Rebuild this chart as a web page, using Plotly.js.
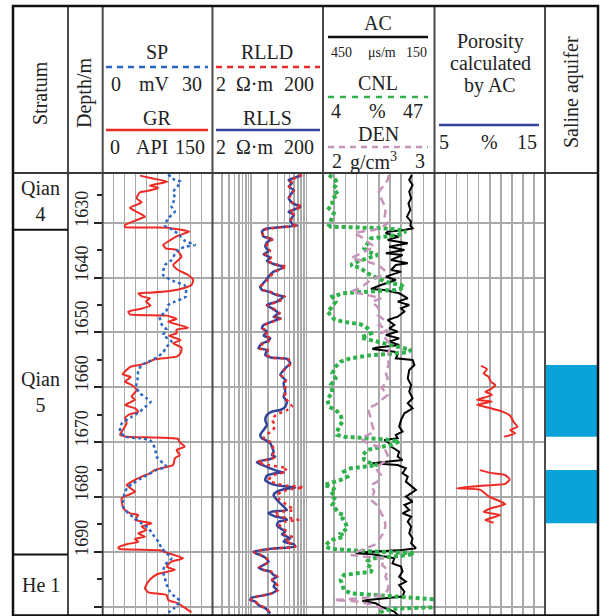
<!DOCTYPE html>
<html><head><meta charset="utf-8">
<script src="https://cdn.plot.ly/plotly-3.0.1.min.js"></script>
<style>html,body{margin:0;padding:0;background:#fff}#chart{width:602px;height:616px}</style>
</head><body><div id="chart"></div>
<script>
// ---------------- DATA ----------------
const depthRange = [1701.51, 1620.94];          // bottom, top (m)
const depthTicks = [1630, 1640, 1650, 1660, 1670, 1680, 1690];
const strataNames = ["Qian<br>4", "Qian<br>5", "He 1"];
const strataTop = [1620.94, 1631.3, 1690.5];
const strataBase = [1631.3, 1690.5, 1701.51];
const salineTop = [1655.94, 1675.07];
const salineBase = [1669.0, 1684.8];

// GR (API) : [depth, value]
const GR = [[1621.42,50.9],[1621.91,66.8],[1622.52,88.2],[1623.25,64.5],[1623.61,75.9],[1624.10,65.4],[1624.46,50.9],[1625.56,46.3],[1626.28,53.2],[1627.26,37.3],[1627.87,44.1],[1628.90,57.7],[1629.51,46.3],[1630.42,30.4],[1630.78,30.4],[1630.90,88.2],[1631.63,118.1],[1632.36,103.1],[1634.06,82.7],[1634.67,86.3],[1634.97,100.9],[1636.19,107.7],[1637.71,96.3],[1638.62,103.1],[1639.53,116.8],[1640.44,123.6],[1641.35,121.3],[1641.96,110.0],[1642.45,91.8],[1642.75,64.5],[1642.87,48.6],[1643.48,54.5],[1643.78,64.5],[1644.39,59.1],[1645.12,65.4],[1645.73,50.9],[1646.21,35.0],[1646.70,37.3],[1646.94,87.2],[1647.55,100.9],[1648.04,89.5],[1649.13,116.8],[1649.50,100.9],[1650.16,100.9],[1650.59,90.9],[1651.38,106.3],[1651.99,96.3],[1652.78,107.7],[1653.81,106.3],[1654.42,100.9],[1654.90,71.3],[1655.45,62.2],[1655.94,50.0],[1656.24,38.2],[1657.64,27.2],[1658.12,38.2],[1658.97,30.4],[1659.58,39.5],[1660.49,46.3],[1661.71,39.5],[1662.31,44.1],[1663.23,30.4],[1663.83,44.1],[1664.44,48.6],[1665.05,35.0],[1665.66,30.4],[1666.57,32.7],[1668.09,25.9],[1668.69,23.6],[1669.0,32.7],[1669.42,103.1],[1670.03,105.4],[1670.82,112.2],[1671.43,100.9],[1672.34,105.4],[1672.95,98.6],[1674.16,96.3],[1674.65,82.7],[1675.07,71.3],[1675.68,64.5],[1676.29,53.2],[1677.20,39.5],[1677.81,32.7],[1679.02,44.1],[1679.63,35.0],[1680.24,25.9],[1682.06,28.2],[1682.97,37.3],[1683.28,48.6],[1684.19,44.1],[1684.80,66.8],[1685.40,53.2],[1686.01,60.0],[1686.62,48.6],[1687.23,57.7],[1687.65,44.1],[1688.14,48.6],[1688.62,32.7],[1689.23,21.3],[1689.47,22.7],[1689.72,78.2],[1690.14,87.2],[1691.17,110.0],[1691.78,94.1],[1692.69,87.2],[1693.30,98.6],[1693.91,78.2],[1694.52,69.1],[1695.43,62.2],[1696.64,57.7],[1697.37,62.2],[1697.86,87.2],[1698.77,89.5],[1699.38,103.1],[1699.99,110.0],[1701.02,121.3]];

// SP (mV) : [depth, value]
const SP = [[1621.18,17.9],[1622.21,19.7],[1622.52,21.3],[1623.25,20.6],[1624.34,19.3],[1625.56,19.7],[1627.08,18.8],[1627.99,19.7],[1629.20,17.9],[1630.54,17.0],[1631.33,19.3],[1632.36,21.1],[1633.33,22.5],[1634.06,25.2],[1634.37,22.5],[1634.97,20.6],[1635.76,19.7],[1636.80,18.8],[1637.71,17.0],[1639.53,16.5],[1640.75,19.7],[1641.47,22.5],[1643.48,22.7],[1644.39,19.7],[1645.00,17.9],[1646.21,17.3],[1647.13,15.6],[1648.52,16.1],[1649.56,17.5],[1650.47,16.5],[1651.68,18.8],[1652.60,17.5],[1653.63,16.5],[1654.60,14.7],[1655.33,12.5],[1655.94,10.6],[1657.15,9.7],[1658.67,9.5],[1659.89,9.1],[1661.10,10.2],[1661.90,11.8],[1662.62,13.1],[1663.60,11.6],[1664.70,9.6],[1665.40,7.9],[1666.60,5.2],[1668.09,4.7],[1669.0,6.1],[1669.30,10.2],[1669.60,12.9],[1671.13,14.3],[1672.64,14.7],[1673.86,16.5],[1674.47,17.4],[1675.07,14.7],[1675.87,12.5],[1676.71,10.2],[1677.50,8.3],[1678.11,7.0],[1679.02,6.1],[1680.54,5.6],[1681.76,5.6],[1682.97,7.0],[1683.88,8.8],[1684.80,10.6],[1685.71,12.5],[1686.92,13.8],[1688.14,15.2],[1689.35,16.1],[1690.26,17.5],[1691.17,18.8],[1692.39,17.0],[1693.60,16.5],[1694.82,17.0],[1696.04,17.5],[1697.25,18.4],[1698.16,19.7],[1698.95,21.1],[1700.17,19.7],[1701.50,17.0]];

// Resistivity (ohm.m) : [depth, RLLS, RLLD]
const RES = [[1621.30,83.2,83],[1621.79,63.0,65],[1622.21,47.7,50],[1622.82,54.8,56],[1623.43,47.7,49],[1624.04,58.8,60],[1624.95,51.2,52],[1625.56,47.7,49],[1626.47,56.4,58],[1627.08,77.6,83],[1627.50,63.0,66],[1627.99,47.7,49],[1628.59,58.8,60],[1629.51,51.2,53],[1630.30,56.4,58],[1630.54,67.5,70],[1630.90,27.4,30],[1631.15,18.0,19],[1631.63,15.7,16],[1632.54,16.8,17],[1632.97,23.8,25],[1633.58,19.3,20],[1634.37,18.0,19],[1635.16,20.7,22],[1635.76,16.8,18],[1636.37,22.2,23],[1636.98,19.3,20],[1637.40,23.8,25],[1637.71,29.3,31],[1638.01,38.7,44.5],[1638.44,33.7,35],[1638.92,25.5,27],[1639.83,20.7,22],[1640.63,18.0,19],[1641.66,14.6,15],[1642.27,15.7,16.5],[1642.57,20.7,22],[1643.18,29.3,31],[1643.48,38.7,41],[1644.39,29.3,31],[1645.00,19.3,20],[1645.61,23.8,25],[1646.52,31.4,33],[1647.13,25.5,27],[1647.43,33.7,35],[1648.04,23.8,25],[1648.65,16.8,17.5],[1649.25,15.7,16.5],[1649.86,19.3,20],[1650.59,16.8,17.5],[1651.08,22.2,23],[1651.68,19.3,20],[1651.99,15.7,16.5],[1652.90,13.6,14],[1653.20,19.3,20],[1654.11,18.0,19],[1654.60,23.8,25],[1654.84,44.5,46],[1655.63,51.2,53],[1656.24,44.5,46],[1656.85,38.7,40],[1657.76,33.7,35],[1658.67,41.5,43],[1659.28,38.7,40],[1660.80,41.5,43],[1661.71,38.7,40],[1662.62,44.5,47],[1663.53,41.5,55],[1664.14,33.7,45],[1664.44,23.8,38],[1665.05,19.3,28],[1665.96,18.0,24],[1666.87,19.3,27],[1667.78,16.8,25],[1668.69,14.6,19],[1669.30,15.7,17],[1669.61,18.0,19],[1670.21,22.2,24],[1671.73,25.5,25.5],[1672.34,23.8,25],[1672.64,27.4,28],[1673.07,22.2,23],[1673.43,14.6,15],[1673.68,12.7,13],[1674.16,15.7,20],[1674.77,22.2,45],[1675.26,29.3,38],[1675.50,38.7,40],[1675.68,27.4,33],[1676.11,19.3,24],[1676.90,18.0,21],[1677.50,22.2,27],[1677.93,31.4,45],[1678.11,47.7,75],[1678.30,63.0,89],[1678.54,41.5,55],[1679.02,29.3,36],[1679.63,25.5,30],[1680.54,29.3,33],[1681.45,36.1,45],[1682.37,44.5,58.8],[1682.67,23.8,35],[1682.97,20.7,26],[1683.58,27.4,33],[1683.88,41.5,55],[1684.19,44.5,72],[1684.49,31.4,42],[1685.10,29.3,33],[1685.71,33.7,37],[1686.31,41.5,45],[1686.80,36.1,40],[1687.23,44.5,54.8],[1687.53,51.2,55],[1687.83,41.5,46],[1688.14,38.7,42],[1688.62,58.8,60],[1689.05,63.0,63],[1689.35,27.4,30],[1689.66,15.7,16],[1689.96,11.1,11.5],[1690.26,11.9,12],[1690.57,14.6,15],[1691.05,18.0,18.5],[1691.78,20.7,21],[1692.39,16.8,17],[1692.88,13.6,14],[1693.30,16.8,17],[1693.61,22.2,23],[1694.21,25.5,26],[1694.52,29.3,30],[1695.12,23.8,24],[1695.73,27.4,28],[1696.34,25.5,31],[1696.95,29.3,31],[1697.56,23.8,24],[1697.98,15.7,16],[1698.34,10.3,11],[1698.77,9.64,10],[1699.07,11.9,12],[1699.68,13.6,14],[1700.29,18.0,19],[1701.20,22.2,22]];

// AC (us/m) : [depth, value]
const AC = [[1621.30,211],[1622.21,218],[1623.13,209],[1624.34,218],[1625.56,213],[1626.47,220],[1627.68,215],[1628.90,224],[1629.81,213],[1630.54,215],[1631.02,209],[1631.33,231],[1631.63,276],[1631.94,281],[1632.54,245],[1633.15,276],[1633.76,222],[1634.37,272],[1634.97,231],[1635.58,281],[1635.89,236],[1636.80,267],[1637.40,222],[1637.71,254],[1638.62,267],[1638.92,240],[1639.83,281],[1640.44,254],[1641.35,294],[1641.96,321],[1642.08,321],[1642.27,285],[1642.87,245],[1643.78,222],[1644.39,249],[1645.00,218],[1645.61,240],[1646.21,231],[1647.13,249],[1647.73,276],[1648.65,258],[1649.25,272],[1649.86,249],[1650.47,281],[1651.08,245],[1651.68,272],[1652.29,245],[1652.78,308],[1653.02,317],[1653.51,258],[1653.99,249],[1654.72,254],[1655.03,209],[1655.94,204],[1656.85,218],[1658.37,222],[1659.58,213],[1660.80,218],[1662.01,209],[1662.92,222],[1663.83,209],[1664.74,231],[1665.96,240],[1667.18,245],[1668.09,236],[1668.69,254],[1669.30,249],[1669.61,285],[1670.21,272],[1670.82,267],[1671.73,245],[1672.64,249],[1673.25,236],[1673.86,317],[1674.16,249],[1674.77,227],[1675.68,236],[1676.29,222],[1677.20,227],[1678.72,200],[1679.93,227],[1680.85,209],[1681.45,231],[1682.37,218],[1682.97,236],[1683.58,213],[1684.49,222],[1685.40,213],[1686.62,218],[1687.53,209],[1688.44,213],[1689.35,200],[1689.66,236],[1689.96,321],[1690.26,362],[1690.45,317],[1690.87,281],[1691.17,258],[1692.09,263],[1692.69,240],[1693.61,236],[1694.52,245],[1695.43,227],[1696.04,245],[1697.25,231],[1698.16,236],[1698.77,330],[1698.95,344],[1699.38,308],[1699.98,294],[1700.90,258],[1701.50,249]];

// CNL (%) : [depth, value]
const CNL = [[1621.30,6.3],[1622.21,8.9],[1622.82,9.5],[1623.73,8.2],[1624.95,9.8],[1625.56,7.6],[1626.77,7.6],[1627.38,6.3],[1628.29,8.2],[1629.51,7.0],[1630.42,6.3],[1630.72,7.0],[1630.90,17.3],[1631.02,27.6],[1631.33,34.1],[1631.63,36.0],[1632.24,32.8],[1632.54,26.3],[1632.85,22.5],[1633.76,21.2],[1634.67,19.9],[1635.28,21.2],[1635.89,25.0],[1636.49,21.2],[1637.10,17.3],[1637.71,14.7],[1638.32,18.6],[1639.23,21.2],[1640.14,25.0],[1640.87,28.9],[1641.35,34.1],[1641.84,35.4],[1642.27,31.5],[1642.57,21.2],[1642.87,11.5],[1643.48,7.6],[1644.39,8.9],[1645.61,7.0],[1646.21,5.7],[1647.13,7.6],[1647.55,8.2],[1648.04,11.5],[1648.52,18.6],[1649.25,21.2],[1650.16,22.5],[1650.95,18.6],[1651.38,22.5],[1651.68,25.0],[1652.29,30.2],[1652.78,34.8],[1653.20,37.9],[1653.63,36.7],[1653.99,27.6],[1654.23,21.2],[1654.72,14.7],[1655.33,10.8],[1656.24,8.9],[1657.46,7.6],[1658.37,8.9],[1659.58,7.0],[1660.80,7.6],[1662.31,5.7],[1663.53,6.3],[1664.14,8.9],[1665.05,10.8],[1666.26,11.5],[1667.18,10.2],[1668.09,9.5],[1668.69,9.5],[1669.00,12.1],[1669.30,21.2],[1669.48,27.6],[1669.91,33.4],[1670.52,30.2],[1671.00,25.0],[1671.43,21.2],[1672.34,19.3],[1673.25,19.9],[1673.86,22.5],[1674.16,25.0],[1674.47,19.9],[1674.77,14.7],[1675.38,12.1],[1676.29,13.4],[1676.90,10.8],[1677.50,7.0],[1677.81,4.4],[1678.11,6.3],[1678.72,8.9],[1679.63,7.0],[1680.54,8.9],[1681.45,7.6],[1682.37,9.5],[1682.97,10.2],[1683.28,12.1],[1683.88,11.5],[1684.80,12.7],[1685.71,13.4],[1686.62,10.8],[1687.23,12.1],[1687.83,7.6],[1688.44,5.7],[1689.05,5.0],[1689.47,7.0],[1689.78,17.3],[1689.96,27.6],[1690.26,39.2],[1690.57,36.7],[1690.87,30.2],[1691.17,23.7],[1691.66,21.2],[1692.39,21.2],[1692.99,23.1],[1693.61,22.5],[1693.91,17.3],[1694.21,12.1],[1695.12,10.8],[1696.04,11.5],[1696.95,12.1],[1697.56,14.7],[1697.98,27.6],[1698.34,40.5],[1698.77,50.0],[1699.60,52.0],[1700.10,46.0],[1700.40,30.2],[1701.00,26.0],[1701.50,25.0]];

// DEN (g/cm3) : [depth, value]
const DEN = [[1621.30,2.59],[1622.21,2.58],[1623.13,2.55],[1624.34,2.50],[1625.56,2.52],[1626.77,2.55],[1627.99,2.56],[1629.20,2.55],[1630.12,2.58],[1630.72,2.53],[1631.33,2.46],[1631.63,2.34],[1631.94,2.28],[1632.54,2.34],[1633.46,2.40],[1634.37,2.46],[1635.58,2.34],[1636.49,2.25],[1637.10,2.40],[1637.71,2.49],[1638.62,2.55],[1639.53,2.53],[1640.44,2.43],[1641.35,2.37],[1642.08,2.31],[1642.57,2.25],[1643.18,2.40],[1643.78,2.52],[1644.39,2.44],[1645.61,2.50],[1646.82,2.49],[1647.73,2.55],[1648.65,2.50],[1649.55,2.58],[1650.16,2.52],[1651.08,2.56],[1652.29,2.61],[1653.51,2.59],[1654.72,2.58],[1655.94,2.59],[1657.15,2.56],[1658.37,2.58],[1659.58,2.55],[1660.19,2.53],[1661.40,2.58],[1663.23,2.47],[1663.83,2.40],[1665.66,2.43],[1666.87,2.44],[1668.09,2.46],[1669.30,2.34],[1670.21,2.40],[1671.12,2.55],[1672.34,2.58],[1673.55,2.55],[1674.77,2.47],[1675.98,2.52],[1677.20,2.49],[1677.81,2.43],[1679.02,2.46],[1680.54,2.43],[1681.76,2.50],[1682.97,2.52],[1683.88,2.55],[1685.10,2.56],[1686.31,2.55],[1687.83,2.50],[1688.74,2.46],[1689.96,2.31],[1690.57,2.25],[1690.87,2.37],[1691.17,2.55],[1692.39,2.53],[1693.30,2.58],[1694.52,2.56],[1695.73,2.59],[1696.95,2.58],[1697.86,2.55],[1698.47,2.34],[1698.77,2.10],[1699.07,2.31],[1699.68,2.46],[1700.29,2.52],[1701.50,2.55]];

// Porosity calculated by AC (%) : [depth, value]; null row separates the two intervals
const POR = [[1656.1,9.2],[1656.7,9.75],[1657.5,9.45],[1658.1,9.9],[1659.0,10.1],[1659.6,10.5],[1660.4,10.05],[1660.8,9.6],[1661.4,10.2],[1662.3,8.85],[1662.6,10.2],[1663.2,8.85],[1663.8,10.05],[1664.4,11.1],[1665.2,11.85],[1666.3,12.15],[1667.2,12.5],[1667.8,11.85],[1668.4,12.3],[1669.0,11.3],[null,null],[1675.1,9.1],[1675.6,10.05],[1676.0,11.4],[1676.8,11.8],[1677.6,11.4],[1677.8,10.35],[1678.4,7.05],[1678.7,9.15],[1679.9,9.9],[1680.8,10.95],[1681.3,11.4],[1682.1,10.05],[1682.7,9.45],[1683.3,10.95],[1684.2,9.6],[1684.7,10.35]];

// ---------------- LAYOUT HELPERS ----------------
const W = 602, H = 616;
const px = x => x / W, py = y => 1 - y / H;
const col = (a, i) => a.map(r => r[i]);
const FONT = "Liberation Serif, serif";
const yTop = 173, yBot = 615;
const tracks = [102.7, 212.5, 323, 434.5, 545, 598];
const dom = i => [px(tracks[i]), px(tracks[i + 1])];
const yDom = [py(yBot), py(yTop)];
const GRID = '#a9a9a9';

const traces = [
  {x: col(GR,1), y: col(GR,0), xaxis: 'x', yaxis: 'y', mode: 'lines', line: {color: '#ee2a24', width: 2, shape: 'spline', smoothing: 0.5}},
  {x: col(SP,1), y: col(SP,0), xaxis: 'x2', yaxis: 'y', mode: 'lines', line: {color: '#2a66c4', width: 2.5, dash: '3px,3px', shape: 'spline', smoothing: 0.5}},
  {x: col(RES,1), y: col(RES,0), xaxis: 'x3', yaxis: 'y', mode: 'lines', line: {color: '#33449a', width: 2.5, shape: 'spline', smoothing: 0.5}},
  {x: col(RES,2), y: col(RES,0), xaxis: 'x4', yaxis: 'y', mode: 'lines', line: {color: '#ee2a2a', width: 2.5, dash: '3px,4px', shape: 'spline', smoothing: 0.5}},
  {x: col(DEN,1), y: col(DEN,0), xaxis: 'x7', yaxis: 'y', mode: 'lines', line: {color: '#c693ba', width: 2.5, dash: '8px,5px'}},
  {x: col(CNL,1), y: col(CNL,0), xaxis: 'x6', yaxis: 'y', mode: 'lines', line: {color: '#2fb24b', width: 4, dash: '4px,3px'}},
  {x: col(AC,1), y: col(AC,0), xaxis: 'x5', yaxis: 'y', mode: 'lines', line: {color: '#000', width: 2}},
  {x: col(POR,1), y: col(POR,0), xaxis: 'x8', yaxis: 'y', mode: 'lines', connectgaps: false, line: {color: '#ee2a24', width: 2, shape: 'spline', smoothing: 0.5}},
  {type: 'bar', orientation: 'h', xaxis: 'x9', yaxis: 'y2',
   y: salineTop.map((t, i) => (t + salineBase[i]) / 2),
   width: salineTop.map((t, i) => salineBase[i] - t),
   x: salineTop.map(() => 1), base: 0,
   marker: {color: '#0aa3d9', line: {width: 0}}}
];

const gridAxis = (d, extra) => Object.assign({domain: d, anchor: 'y', showgrid: true, gridcolor: GRID, gridwidth: 1.5,
  showticklabels: false, ticks: '', zeroline: false, showline: false, fixedrange: true}, extra);
const hidden = (over, extra) => Object.assign({overlaying: over, visible: false, fixedrange: true}, extra);

const layout = {
  width: W, height: H, autosize: false,
  margin: {l: 0, r: 0, t: 0, b: 0, pad: 0},
  paper_bgcolor: '#fff', plot_bgcolor: 'rgba(0,0,0,0)',
  showlegend: false,
  font: {family: FONT, size: 20, color: '#222'},
  xaxis: gridAxis(dom(0), {range: [0, 150], tick0: 0, dtick: 15}),
  xaxis2: hidden('x', {range: [0, 30]}),
  xaxis3: gridAxis(dom(1), {type: 'log', range: [Math.log10(2), Math.log10(200)], dtick: 'D1'}),
  xaxis4: hidden('x3', {type: 'log', range: [Math.log10(2), Math.log10(200)]}),
  xaxis5: gridAxis(dom(2), {range: [450, 150], tick0: 150, dtick: 30}),
  xaxis6: hidden('x5', {range: [4, 47]}),
  xaxis7: hidden('x5', {range: [2, 3]}),
  xaxis8: gridAxis(dom(3), {range: [5, 15], tick0: 5, dtick: 1}),
  xaxis9: {domain: dom(4), anchor: 'y2', range: [0, 1], visible: false, fixedrange: true},
  yaxis: {domain: yDom, anchor: 'x', range: depthRange, showgrid: true, gridcolor: GRID, gridwidth: 2,
    tick0: 1620, dtick: 10, ticks: 'outside', ticklen: 8, tickwidth: 2, tickcolor: '#222',
    showticklabels: false, zeroline: false, showline: false, fixedrange: true,
    minor: {tick0: 1620, dtick: 5, ticks: 'outside', ticklen: 5, tickwidth: 2, tickcolor: '#222', showgrid: false}},
  yaxis2: {domain: yDom, anchor: 'x9', range: depthRange, visible: false, showgrid: false, fixedrange: true},
  shapes: [], annotations: []
};

const S = layout.shapes, A = layout.annotations;
const pline = (x0, y0, x1, y1, color, width, dash) =>
  S.push({type: 'line', xref: 'paper', yref: 'paper', x0: px(x0), y0: py(y0), x1: px(x1), y1: py(y1),
          line: {color, width, dash: dash || 'solid'}, layer: 'above'});
const txt = (x, y, text, size, angle) =>
  A.push({xref: 'paper', yref: 'paper', x: px(x), y: py(y), text, showarrow: false,
          xanchor: 'center', yanchor: 'middle', textangle: angle || 0,
          font: {family: FONT, size: size || 20, color: '#222'}});

// frame and column separators
[68, 102.7, 212.5, 323, 434.5, 545].forEach(x => pline(x, 6, x, yBot + 1, '#4a4a4a', 2));
pline(13, yTop, 598, yTop, '#3a3a3a', 2);
S.push({type: 'rect', xref: 'paper', yref: 'paper', x0: px(13), x1: px(598), y0: py(615.5), y1: py(6),
        line: {color: '#111', width: 2.5}, layer: 'above'});

// strata boundaries and names
strataTop.forEach((t, i) => {
  if (i > 0) S.push({type: 'line', xref: 'paper', yref: 'y', x0: px(13), x1: px(68), y0: t, y1: t,
                     line: {color: '#111', width: 2}, layer: 'above'});
  A.push({xref: 'paper', yref: 'y', x: px(40.5), y: (t + strataBase[i]) / 2, text: strataNames[i],
          showarrow: false, xanchor: 'center', yanchor: 'middle', font: {family: FONT, size: 20, color: '#222'}});
});

// depth labels
depthTicks.forEach(d => A.push({xref: 'paper', yref: 'y', x: px(82), y: d, yshift: 14, text: String(d),
  showarrow: false, textangle: -90, xanchor: 'center', yanchor: 'middle', font: {family: FONT, size: 18, color: '#222'}}));

// header
txt(40, 93, 'Stratum', 20, -90);
txt(84, 93, 'Depth/m', 20, -90);
txt(157, 52, 'SP'); pline(106, 67, 208, 67, '#2a66c4', 2.5, '6px,5px');
txt(116, 84, '0'); txt(154, 84, 'mV'); txt(192, 84, '30');
txt(157, 118, 'GR'); pline(106, 130, 208, 130, '#ee2a24', 2.5);
txt(115, 147, '0'); txt(152, 147, 'API'); txt(190, 147, '150');
txt(267, 52, 'RLLD'); pline(216, 67, 320, 67, '#ee2a2a', 2.5, '6px,5px');
txt(221, 84, '2'); txt(255, 84, 'Ω·m'); txt(299, 84, '200');
txt(267, 118, 'RLLS'); pline(216, 130, 320, 130, '#33449a', 2.5);
txt(221, 147, '2'); txt(255, 147, 'Ω·m'); txt(299, 147, '200');
txt(378, 23, 'AC'); pline(328, 37, 428, 37, '#111', 2.5);
txt(341, 53, '450', 14); txt(382, 53, 'μs/m', 14); txt(416, 53, '150', 14);
txt(378, 83, 'CNL'); pline(328, 97, 428, 97, '#2fb24b', 2.5, '6px,6px');
txt(336, 111, '4'); txt(377, 111, '%'); txt(413, 111, '47');
txt(378, 134, 'DEN'); pline(328, 147, 428, 147, '#c693ba', 2.5, '6px,5px');
txt(337, 161, '2'); txt(373, 161, 'g/cm<sup>3</sup>'); txt(420, 161, '3');
txt(490, 41, 'Porosity'); txt(490, 63, 'calculated'); txt(490, 85, 'by AC');
pline(439, 125, 539, 125, '#33449a', 2.5);
txt(444, 142, '5'); txt(489, 142, '%'); txt(527, 142, '15');
txt(571, 92, 'Saline aquifer', 20, -90);

Plotly.newPlot('chart', traces, layout, {staticPlot: true, displayModeBar: false});
</script></body></html>
